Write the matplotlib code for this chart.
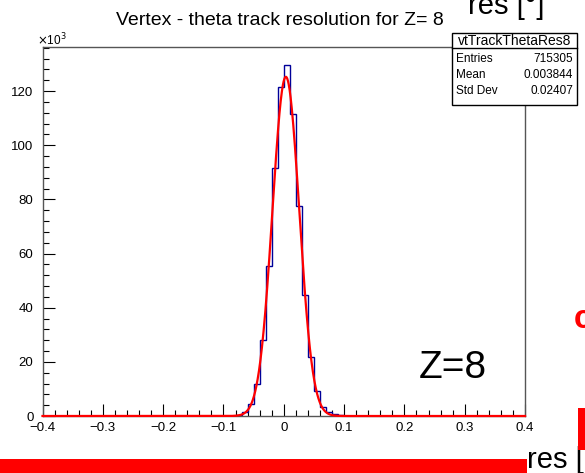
import numpy as np
import matplotlib
matplotlib.use("Agg")
import matplotlib.pyplot as plt
from matplotlib.patches import Rectangle
from matplotlib.ticker import MultipleLocator, FixedLocator

plt.rcParams['font.family'] = ['Liberation Sans', 'DejaVu Sans']

# ---------------- data ----------------
title = "Vertex - theta track resolution for Z= 8"
hist_name = "vtTrackThetaRes8"
stat_labels = ["Entries", "Mean", "Std Dev"]
stat_values = ["715305", "0.003844", "0.02407"]

bin_low = -0.4
bin_high = 0.4
bin_width = 0.01
# counts per bin in units of 10^3 (80 bins from -0.4 to 0.4)
counts_k = [
    0, 0, 0, 0, 0, 0, 0, 0, 0, 0,        # -0.40 .. -0.31
    0, 0, 0, 0, 0, 0, 0, 0, 0, 0,        # -0.30 .. -0.21
    0, 0, 0, 0, 0, 0, 0, 0, 0, 0,        # -0.20 .. -0.11
    0, 0.1, 0.4, 1.3, 4.3, 11.8, 28.0, 55.3, 91.7, 121.5,   # -0.10 .. -0.01
    129.8, 111.4, 77.7, 44.8, 21.8, 9.4, 3.5, 1.3, 0.6, 0.3,  # 0.00 .. 0.09
    0.1, 0, 0, 0, 0, 0, 0, 0, 0, 0,      # 0.10 .. 0.19
    0, 0, 0, 0, 0, 0, 0, 0, 0, 0,        # 0.20 .. 0.29
    0, 0, 0, 0, 0, 0, 0, 0, 0, 0,        # 0.30 .. 0.39
]
# gaussian fit parameters (constant in 10^3, mean, sigma)
fit_const = 125.3
fit_mean = 0.0035
fit_sigma = 0.0222

x_ticks = [-0.4, -0.3, -0.2, -0.1, 0.0, 0.1, 0.2, 0.3, 0.4]
x_ticklabels = ["\u22120.4", "\u22120.3", "\u22120.2", "\u22120.1", "0", "0.1", "0.2", "0.3", "0.4"]
y_ticks = [0, 20, 40, 60, 80, 100, 120]
y_ticklabels = ["0", "20", "40", "60", "80", "100", "120"]
y_max = 136.3

# ---------------- figure ----------------
W, H = 585, 473
fig = plt.figure(figsize=(W / 100, H / 100), dpi=100)
fig.patch.set_facecolor("white")

def fx(px):
    return px / W

def fy(py):
    return 1 - py / H

ax = fig.add_axes([fx(42.5), fy(416), fx(525) - fx(42.5), fy(47) - fy(416)])

edges = np.linspace(bin_low, bin_high, len(counts_k) + 1)
ax.stairs(counts_k, edges, color="#000099", lw=1.0, baseline=0, zorder=3)

xf = np.linspace(bin_low, bin_high, 2000)
yf = fit_const * np.exp(-0.5 * ((xf - fit_mean) / fit_sigma) ** 2)
ax.plot(xf, yf, color="#ff0000", lw=1.6, zorder=4, clip_on=False)

ax.set_xlim(bin_low, bin_high)
ax.set_ylim(0, y_max)

ax.xaxis.set_major_locator(FixedLocator(x_ticks))
ax.set_xticklabels(x_ticklabels)
ax.xaxis.set_minor_locator(MultipleLocator(0.02))
ax.yaxis.set_major_locator(FixedLocator(y_ticks))
ax.set_yticklabels(y_ticklabels)
ax.yaxis.set_minor_locator(MultipleLocator(4))

ax.tick_params(which="both", direction="in", top=False, right=False, colors="black",
               labelsize=9.5, width=0.8)
ax.tick_params(which="major", length=8.5)
ax.tick_params(which="minor", length=4.2)
ax.tick_params(axis="x", pad=4)
ax.tick_params(axis="y", pad=6.5)
for s in ax.spines.values():
    s.set_color("#555555")
    s.set_linewidth(1.0)

# x10^3 label
fig.text(fx(37), fy(45), r"$\times$10$^{3}$", fontsize=8.5, ha="left", va="baseline")

# title
fig.text(fx(280), fy(25), title, fontsize=14, ha="center", va="baseline")

# stat box
bx0, bx1, by0, by1 = 452, 577, 33, 105
sep = 48.5
fig.patches.append(Rectangle((fx(bx0), fy(by1)), fx(bx1) - fx(bx0), fy(by0) - fy(by1),
                             transform=fig.transFigure, facecolor="white",
                             edgecolor="black", lw=1.0, zorder=10))
fig.add_artist(plt.Line2D([fx(bx0), fx(bx1)], [fy(sep), fy(sep)], color="black", lw=1.0,
                          transform=fig.transFigure, zorder=11))
fig.text(fx((bx0 + bx1) / 2), fy((by0 + sep) / 2), hist_name, fontsize=10,
         ha="center", va="center", zorder=12)
row_y = [58.5, 75, 91.5]
for lab, val, ry in zip(stat_labels, stat_values, row_y):
    fig.text(fx(bx0 + 4), fy(ry), lab, fontsize=8.5, ha="left", va="center", zorder=12)
    fig.text(fx(bx1 - 4), fy(ry), val, fontsize=8.5, ha="right", va="center", zorder=12)

# Z=8 label
fig.text(fx(419), fy(378), "Z=8", fontsize=28, ha="left", va="baseline")

# stray elements at the edges
fig.text(fx(468), fy(14), "res [\u00b0]", fontsize=21, ha="left", va="baseline")
fig.text(fx(527), fy(468), "res [\u00b0]", fontsize=21, ha="left", va="baseline")
fig.patches.append(Rectangle((fx(0), fy(473)), fx(527), fy(459) - fy(473),
                             transform=fig.transFigure, facecolor="#ff0000",
                             edgecolor="none", zorder=10))
fig.patches.append(Rectangle((fx(578), fy(450)), fx(585) - fx(578), fy(408) - fy(450),
                             transform=fig.transFigure, facecolor="#ff0000",
                             edgecolor="none", zorder=10))
fig.text(fx(574), fy(328), "c", fontsize=24, color="#ff0000", fontweight="bold",
         ha="left", va="baseline")

fig.savefig("out.png", dpi=100)
